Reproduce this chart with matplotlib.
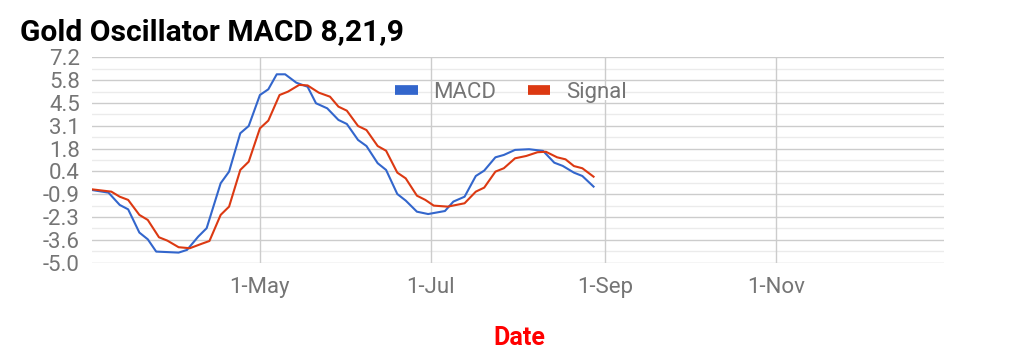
import matplotlib
matplotlib.use("Agg")
import matplotlib.pyplot as plt
import numpy as np
import pandas as pd

# ---- data ----
macd_dates = ["2021-03-02", "2021-03-08", "2021-03-12", "2021-03-15", "2021-03-19", "2021-03-22",
              "2021-03-25", "2021-04-02", "2021-04-05", "2021-04-09", "2021-04-12", "2021-04-17",
              "2021-04-20", "2021-04-24", "2021-04-27", "2021-05-01", "2021-05-04", "2021-05-07",
              "2021-05-10", "2021-05-14", "2021-05-18", "2021-05-21", "2021-05-25", "2021-05-29",
              "2021-06-01", "2021-06-05", "2021-06-08", "2021-06-12", "2021-06-15", "2021-06-19",
              "2021-06-22", "2021-06-26", "2021-06-30", "2021-07-06", "2021-07-09", "2021-07-13",
              "2021-07-17", "2021-07-20", "2021-07-24", "2021-07-27", "2021-07-31", "2021-08-05",
              "2021-08-10", "2021-08-14", "2021-08-17", "2021-08-21", "2021-08-24", "2021-08-28"]
macd_values = [-0.68, -0.84, -1.57, -1.83, -3.21, -3.61,
               -4.34, -4.40, -4.24, -3.45, -2.95, -0.28,
               0.41, 2.69, 3.12, 4.96, 5.30, 6.19,
               6.19, 5.69, 5.45, 4.47, 4.17, 3.48,
               3.24, 2.29, 1.93, 0.91, 0.51, -0.92,
               -1.31, -1.97, -2.11, -1.93, -1.37, -1.08,
               0.15, 0.47, 1.26, 1.40, 1.70, 1.74,
               1.64, 0.94, 0.75, 0.35, 0.15, -0.48]

signal_dates = ["2021-03-02", "2021-03-09", "2021-03-12", "2021-03-15", "2021-03-19", "2021-03-22",
                "2021-03-26", "2021-03-29", "2021-04-02", "2021-04-06", "2021-04-10", "2021-04-13",
                "2021-04-17", "2021-04-20", "2021-04-24", "2021-04-27", "2021-05-01", "2021-05-04",
                "2021-05-08", "2021-05-11", "2021-05-15", "2021-05-18", "2021-05-22", "2021-05-26",
                "2021-05-29", "2021-06-01", "2021-06-05", "2021-06-08", "2021-06-12", "2021-06-15",
                "2021-06-19", "2021-06-22", "2021-06-26", "2021-06-29", "2021-07-02", "2021-07-07",
                "2021-07-13", "2021-07-17", "2021-07-20", "2021-07-24", "2021-07-27", "2021-07-31",
                "2021-08-04", "2021-08-08", "2021-08-11", "2021-08-15", "2021-08-18", "2021-08-21",
                "2021-08-24", "2021-08-28"]
signal_values = [-0.64, -0.78, -1.08, -1.27, -2.16, -2.46,
                 -3.49, -3.69, -4.08, -4.14, -3.89, -3.71,
                 -2.16, -1.67, 0.51, 1.00, 2.98, 3.44,
                 4.96, 5.16, 5.56, 5.53, 5.10, 4.86,
                 4.27, 4.03, 3.12, 2.88, 1.93, 1.65,
                 0.35, 0.01, -1.02, -1.27, -1.61, -1.67,
                 -1.47, -0.78, -0.54, 0.41, 0.61, 1.20,
                 1.34, 1.56, 1.59, 1.26, 1.14, 0.74,
                 0.61, 0.11]

y_tick_values = [-5.0, -3.644, -2.289, -0.933, 0.422, 1.778, 3.133, 4.489, 5.844, 7.2]
y_tick_labels = ["-5.0", "-3.6", "-2.3", "-0.9", "0.4", "1.8", "3.1", "4.5", "5.8", "7.2"]
x_tick_dates = ["2021-05-01", "2021-07-01", "2021-09-01", "2021-11-01"]
x_tick_labels = ["1-May", "1-Jul", "1-Sep", "1-Nov"]
x_range = ["2021-03-02", "2021-12-31"]

# ---- figure ----
plt.rcParams['font.family'] = ['Roboto', 'DejaVu Sans']
W, H = 1023, 363
fig = plt.figure(figsize=(W / 100, H / 100), dpi=100)
left, right, top, bottom = 91.7, 944, 57.3, 262.7
ax = fig.add_axes([left / W, 1 - bottom / H, (right - left) / W, (bottom - top) / H])

grey_text = "#757575"
major_c = "#cccccc"
minor_c = "#ebebeb"

yt = np.array(y_tick_values)
minor = (yt[:-1] + yt[1:]) / 2
for v in minor:
    ax.axhline(v, color=minor_c, lw=1.0, zorder=0)
for v in yt:
    ax.axhline(v, color=major_c, lw=1.0, zorder=0.5)
xt = pd.to_datetime(x_tick_dates)
for d in xt:
    ax.axvline(d, color=major_c, lw=1.0, zorder=0.5)

ax.plot(pd.to_datetime(macd_dates), macd_values, color="#3366cc", lw=1.5, label="MACD", zorder=3)
ax.plot(pd.to_datetime(signal_dates), signal_values, color="#dc3912", lw=1.5, label="Signal", zorder=3)

ax.set_xlim(pd.to_datetime(x_range[0]), pd.to_datetime(x_range[1]))
ax.set_ylim(-5.0, 7.2)
ax.set_yticks(yt)
ax.set_yticklabels(y_tick_labels)
ax.set_xticks(xt)
ax.set_xticklabels(x_tick_labels)
ax.tick_params(axis='both', length=0, labelsize=16, labelcolor=grey_text)
ax.tick_params(axis='y', pad=8.5)
ax.tick_params(axis='x', pad=10)
for s in ax.spines.values():
    s.set_visible(False)

leg = ax.legend(loc='center', bbox_to_anchor=((511 - left) / (right - left), (bottom - 92.7) / (bottom - top)),
                ncol=2, frameon=False, fontsize=16, handlelength=1.0, handletextpad=0.72,
                columnspacing=1.4, borderpad=0)
for line in leg.get_lines():
    line.set_linewidth(7)
    line.set_solid_capstyle('butt')
for t in leg.get_texts():
    t.set_color(grey_text)
    t.set_bbox(dict(facecolor='white', edgecolor='none', pad=-2.5))

fig.text(20 / W, 1 - 40 / H, "Gold Oscillator MACD 8,21,9", fontsize=21.6, fontweight='bold',
         color='black', ha='left', va='baseline')
fig.text(519 / W, 1 - 338 / H, "Date", fontsize=18, fontweight='bold', color='#ff0000',
         ha='center', va='center')

fig.savefig("out.png", dpi=100, facecolor='white')
